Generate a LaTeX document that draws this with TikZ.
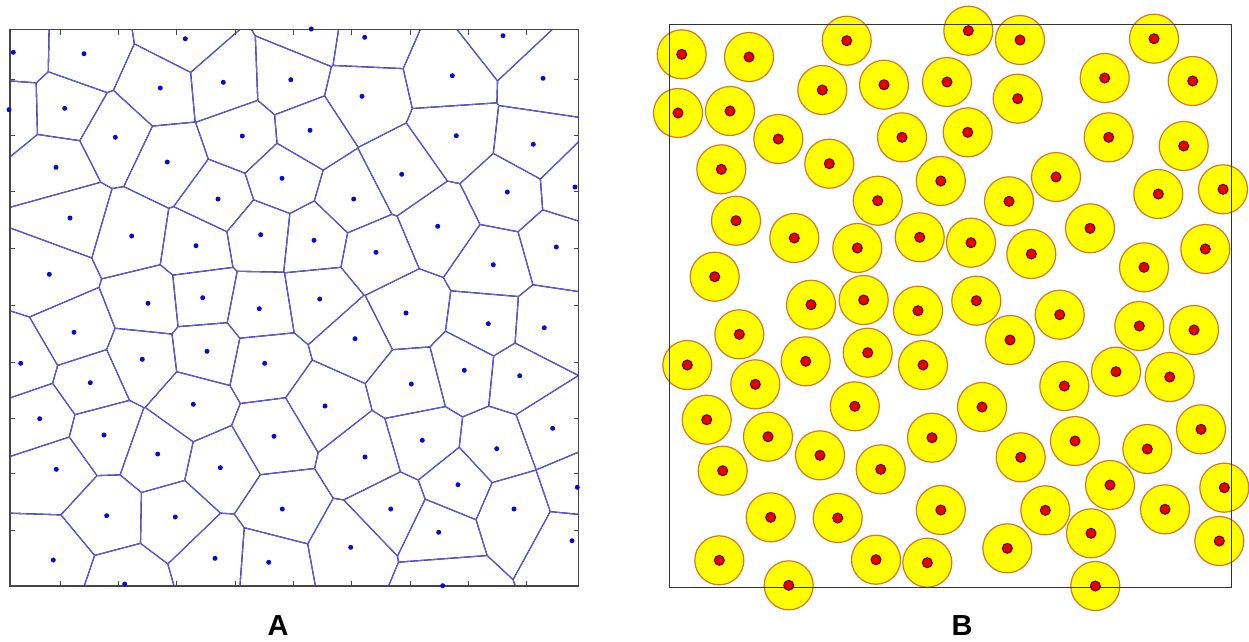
\documentclass[tikz,border=0pt]{standalone}
\usepackage{fontspec}
\setmainfont{Liberation Sans}
\definecolor{vedge}{RGB}{60,60,200}
\definecolor{vsite}{RGB}{10,10,205}
\definecolor{diskfill}{RGB}{255,255,0}
\definecolor{diskline}{RGB}{210,120,40}
\definecolor{dotfill}{RGB}{230,0,0}
\definecolor{dotline}{RGB}{100,0,0}
\tikzset{
  siteA/.style={fill=vsite},
  diskB/.style={fill=diskfill,draw=diskline,line width=1.2pt},
  dotB/.style={fill=dotfill,draw=dotline,line width=1pt},
  frameA/.style={draw={rgb,255:red,70;green,70;blue,70},line width=1.1pt},
  frameB/.style={draw={rgb,255:red,50;green,50;blue,50},line width=1pt},
  tickA/.style={draw={rgb,255:red,70;green,70;blue,70},line width=1pt},
  paneltitle/.style={font=\bfseries\fontsize{29}{29}\selectfont,inner sep=0pt}
}
\begin{document}
\begin{tikzpicture}[x=1pt,y=-1pt]
\useasboundingbox (0,0) rectangle (1249,641);
\def\sitesA{13.3/52.3, 84/53.7, 185.3/38.7, 311.3/29, 364.7/37.3, 503/35.7,
9/109.7, 64.7/108.3, 160.3/88, 223.3/82.3, 290.8/79.7, 452.3/75.7, 543/78.3, 362/96.3,
115.3/137.3, 242.3/136, 310/130.3, 456.3/135.7, 533.3/144.3,
56/167.3, 167.3/162, 282/178.3, 401.7/174.3, 575/187, 218/199, 353.7/199, 507.3/192,
70/218, 131.7/236, 196/245.7, 260.7/234.7, 314/240.3, 376/252.3, 437.7/226.3, 556.3/247, 493.3/264.7,
49.3/274.3, 148/303.3, 202.7/297.7, 259.3/308.7, 319.7/299, 406/313, 488.3/323.7, 544.3/327.7,
74/332.3, 20.7/363.3, 142.3/359.3, 207/351.3, 264.7/363.3, 355/338.7,
90.3/382.7, 193.3/404.3, 325/406, 411.3/384, 464.3/370.3, 519.7/375.7,
39.7/418.7, 104/435, 157.7/454, 274/436.3, 56.3/469.3, 220.3/467.7, 282.3/509,
106.7/515.7, 175.3/517, 53.3/560, 215/558.3, 268.7/562.3, 124.7/584,
365/457, 422.3/440.3, 496.7/448.7, 552.7/428.3, 458/484.7, 390.7/509, 514/509,
577.3/487.3, 438.7/532.3, 350.7/547.3, 572/540.7, 442.7/585.7}
% Voronoi cells: intersection of half-planes, filled blue, then shrunk cell filled white
\foreach \xi/\yi [count=\i] in \sitesA {
  \begin{scope}
    \clip (10,29.5) rectangle (578.5,586);
    \foreach \xj/\yj [count=\j] in \sitesA {
      \ifnum\i=\j\relax\else
        \pgfmathsetmacro\dd{veclen(\xj-\xi,\yj-\yi)}
        \ifdim\dd pt<170pt
          \pgfmathsetmacro\ang{atan2(\yi-\yj,\xj-\xi)}
          \clip[shift={({(\xi+\xj)/2},{(\yi+\yj)/2})},rotate=\ang] (-2000,-2000) rectangle (0,2000);
        \fi
      \fi
    }
    \fill[vedge] (0,0) rectangle (600,600);
    \foreach \xj/\yj [count=\j] in \sitesA {
      \ifnum\i=\j\relax\else
        \pgfmathsetmacro\dd{veclen(\xj-\xi,\yj-\yi)}
        \ifdim\dd pt<170pt
          \pgfmathsetmacro\ang{atan2(\yi-\yj,\xj-\xi)}
          \clip[shift={({(\xi+\xj)/2},{(\yi+\yj)/2})},rotate=\ang] (-2000,-2000) rectangle (-0.8,2000);
        \fi
      \fi
    }
    \fill[white] (0,0) rectangle (600,600);
  \end{scope}
}
% frame A with ticks
\draw[frameA] (10,29.5) rectangle (578.5,586);
\foreach \t in {60,118.3,176.7,235,293.3,351.7,410,468.3,526.7} {
  \draw[tickA] (\t,29.5) -- (\t,34.5);
  \draw[tickA] (\t,586) -- (\t,581);
}
\foreach \t in {79.7,135.3,191,248,305.3,362,418,473.7,530.3} {
  \draw[tickA] (10,\t) -- (15,\t);
  \draw[tickA] (578.5,\t) -- (573.5,\t);
}
\foreach \x/\y in \sitesA { \fill[siteA] (\x,\y) circle (2.5pt); }
% panel B
\def\disksB{681.7/54.3, 749/57, 846.7/40.7, 968.3/30.7, 1020/40, 1154/38.7,
678/113, 730/111, 822.3/90, 884/84.7, 947/82, 1017.7/98.7, 1104.7/78, 1192.7/81,
778.3/139, 829.3/163.7, 902/137.3, 967.7/132.3, 1108.7/137.3, 1183.7/146,
721.3/169.3, 940.8/181, 1056/177, 1009/201.3, 1158.3/194, 1223/189.3, 877.7/200.7,
736/220.7, 794.3/238, 857.3/248, 919.7/237.3, 971/242.7, 1031.3/254, 1090/228.3, 1144/267.3, 1205.3/249,
714.7/276.7, 811/304.7, 863.7/300, 918/310.7, 976.3/300.7, 1059.7/314.7, 1139.3/326, 1194/330,
739.3/334.3, 687.3/365, 755.3/384.3, 805.7/361.3, 867.7/352.7, 923/365, 1010/340, 1064.3/386, 1116/371.7, 1169.7/377,
706.7/419.7, 768/436.7, 854.8/406.3, 820/455.3, 932/437.7, 982/407, 1075/441, 1147.3/449, 1201/429.3, 1020.7/457.3,
722.7/470.7, 880.7/469.3, 1110/485, 1224.3/487.7,
770.7/517.3, 837.7/518, 940.8/510, 1045.3/510.3, 1165/509.3, 1091/533.3, 1219.3/541,
719.3/560.3, 876/559.7, 927.3/562.7, 1007.3/548.3, 788.7/585.3, 1095.3/586}
\foreach \x/\y in \disksB { \path[diskB] (\x,\y) circle (24.5pt); }
\draw[frameB] (669,24.3) rectangle (1231.7,587.7);
\foreach \x/\y in \disksB { \path[dotB] (\x,\y) circle (5pt); }
% labels
\node[paneltitle] (labA) at (278,626) {A};
\node[paneltitle] (labB) at (962,626) {B};
\end{tikzpicture}
\end{document}
